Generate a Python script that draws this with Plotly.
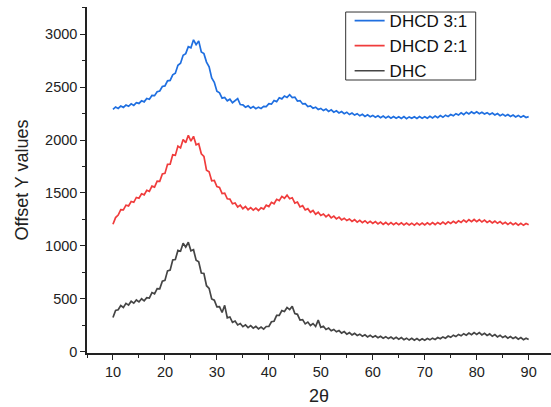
import plotly.graph_objects as go

two_theta = [10 + 0.5 * i for i in range(161)]

dhcd31 = [
    2290, 2312, 2298, 2320, 2308, 2330, 2318, 2341, 2326, 2352,
    2345, 2370, 2360, 2392, 2385, 2420, 2418, 2455, 2462, 2505,
    2510, 2558, 2562, 2615, 2630, 2705, 2725, 2800, 2815, 2880,
    2870, 2945, 2900, 2935, 2830, 2815, 2735, 2690, 2585, 2545,
    2460, 2445, 2395, 2402, 2370, 2385, 2352, 2370, 2390, 2335,
    2332, 2310, 2322, 2300, 2315, 2295, 2310, 2298, 2318, 2315,
    2342, 2338, 2372, 2362, 2398, 2388, 2415, 2402, 2428, 2400,
    2405, 2368, 2372, 2340, 2342, 2315, 2322, 2300, 2310, 2288,
    2298, 2278, 2292, 2270, 2285, 2262, 2275, 2255, 2268, 2248,
    2262, 2240, 2255, 2235, 2248, 2228, 2242, 2222, 2238, 2220,
    2232, 2215, 2228, 2210, 2226, 2208, 2224, 2205, 2222, 2206,
    2220, 2204, 2222, 2202, 2218, 2205, 2220, 2203, 2222, 2206,
    2220, 2205, 2224, 2208, 2226, 2210, 2230, 2214, 2234, 2222,
    2240, 2228, 2248, 2235, 2256, 2240, 2262, 2245, 2265, 2250,
    2266, 2248, 2262, 2245, 2258, 2240, 2254, 2236, 2250, 2230,
    2244, 2226, 2240, 2222, 2236, 2218, 2232, 2215, 2228, 2212,
    2220,
]

dhcd21 = [
    1205, 1268, 1292, 1342, 1340, 1385, 1378, 1420, 1412, 1458,
    1450, 1492, 1482, 1525, 1515, 1565, 1555, 1612, 1610, 1680,
    1685, 1770, 1772, 1860, 1855, 1942, 1925, 2005, 1975, 2045,
    1990, 2035, 1955, 1965, 1870, 1845, 1715, 1700, 1615, 1618,
    1560, 1552, 1495, 1498, 1445, 1442, 1398, 1405, 1368, 1385,
    1352, 1372, 1342, 1362, 1338, 1358, 1335, 1360, 1348, 1385,
    1372, 1412, 1398, 1440, 1428, 1468, 1450, 1480, 1445, 1455,
    1405, 1415, 1368, 1380, 1340, 1352, 1318, 1335, 1300, 1318,
    1288, 1302, 1275, 1295, 1265, 1282, 1255, 1272, 1246, 1262,
    1240, 1255, 1232, 1248, 1225, 1242, 1220, 1238, 1215, 1232,
    1212, 1230, 1208, 1226, 1204, 1222, 1202, 1220, 1200, 1218,
    1200, 1218, 1198, 1216, 1198, 1215, 1197, 1216, 1198, 1217,
    1198, 1218, 1200, 1220, 1202, 1222, 1205, 1225, 1206, 1228,
    1212, 1232, 1216, 1238, 1222, 1245, 1226, 1248, 1230, 1250,
    1230, 1248, 1226, 1244, 1222, 1238, 1218, 1234, 1214, 1230,
    1208, 1224, 1204, 1220, 1200, 1216, 1196, 1214, 1195, 1212,
    1200,
]

dhc = [
    325, 392, 398, 438, 420, 458, 442, 478, 460, 490,
    472, 502, 482, 512, 508, 560, 548, 598, 595, 668,
    675, 765, 772, 868, 872, 958, 950, 1025, 990, 1035,
    955, 965, 865, 850, 745, 740, 625, 600, 500, 488,
    425, 428, 372, 440, 322, 330, 280, 292, 255, 268,
    238, 255, 230, 248, 225, 242, 218, 235, 215, 240,
    240, 285, 290, 345, 345, 390, 382, 420, 400, 430,
    362, 355, 300, 305, 265, 282, 250, 268, 240, 300,
    232, 242, 212, 225, 200, 212, 190, 202, 178, 192,
    168, 182, 160, 175, 155, 168, 148, 162, 142, 158,
    138, 152, 134, 148, 130, 144, 126, 140, 122, 138,
    120, 135, 116, 130, 112, 128, 110, 126, 108, 124,
    110, 126, 114, 130, 118, 136, 124, 142, 130, 150,
    138, 158, 145, 165, 152, 172, 158, 178, 162, 182,
    165, 182, 160, 176, 155, 170, 148, 164, 142, 158,
    136, 150, 130, 145, 126, 140, 120, 136, 116, 130,
    118,
]

series_names = ["DHCD 3:1", "DHCD 2:1", "DHC"]
series_colors = ["#1f6fe0", "#f03c3c", "#454545"]
x_ticks = [10, 20, 30, 40, 50, 60, 70, 80, 90]
y_ticks = [0, 500, 1000, 1500, 2000, 2500, 3000]

fig = go.Figure()
for name, vals, col in zip(series_names, [dhcd31, dhcd21, dhc], series_colors):
    fig.add_trace(go.Scatter(x=two_theta, y=vals, mode="lines", name=name,
                             line=dict(color=col, width=1.7)))

# legend frame
fig.add_shape(type="rect", xref="paper", yref="paper",
              x0=0.5575, x1=0.8377, y0=0.789, y1=0.9855,
              line=dict(color="#333333", width=1), fillcolor="white", layer="above")

font_family = "Liberation Sans, Arial, sans-serif"
fig.update_layout(
    width=551, height=407,
    margin=dict(l=87, r=0, t=7, b=54),
    paper_bgcolor="white", plot_bgcolor="white",
    font=dict(family=font_family, color="#222222", size=14.5),
    showlegend=True,
    legend=dict(x=0.566, y=1.0116, xanchor="left", yanchor="top",
                borderwidth=0, bgcolor="rgba(0,0,0,0)",
                font=dict(size=17, color="#111111"),
                tracegroupgap=0),
    xaxis=dict(range=[5, 94.3], tickvals=x_ticks, ticks="outside", ticklen=5,
               tickwidth=1.2, tickcolor="#222", showline=True, linecolor="#222",
               linewidth=1.5, showgrid=False, zeroline=False, automargin=False,
               minor=dict(dtick=5, tick0=5, ticks="outside", ticklen=3, tickcolor="#222"),
               title=dict(text="2θ", font=dict(size=18, color="#222"), standoff=10)),
    yaxis=dict(range=[-10, 3255], tickvals=y_ticks, ticks="outside", ticklen=5,
               tickwidth=1.2, tickcolor="#222", showline=True, linecolor="#222",
               linewidth=1.5, showgrid=False, zeroline=False, automargin=False,
               minor=dict(dtick=250, tick0=0, ticks="outside", ticklen=3, tickcolor="#222"),
               title=dict(text="Offset Y values", font=dict(size=18, color="#222"), standoff=12)),
)

fig.write_html("out.html", config={"displayModeBar": False},
               post_script="document.body.style.margin='0';document.body.style.overflow='hidden';")
